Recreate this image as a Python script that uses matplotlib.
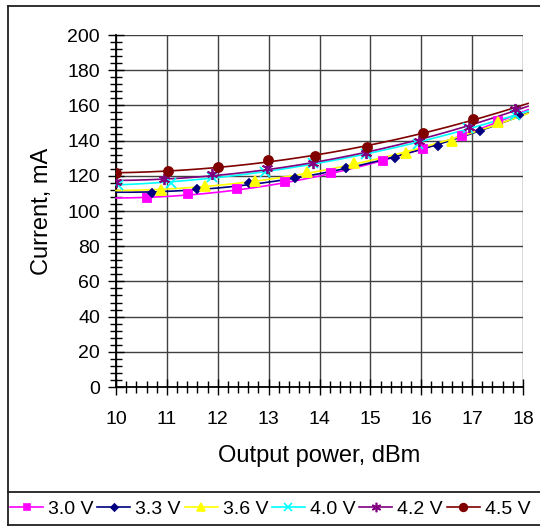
import numpy as np
import matplotlib
matplotlib.use("Agg")
import matplotlib.pyplot as plt
from matplotlib.lines import Line2D
from matplotlib.ticker import MultipleLocator

plt.rcParams["font.family"] = ["Liberation Sans", "DejaVu Sans"]

# measured points per supply voltage: output power (dBm) vs current (mA)
p30 = [10.60, 11.42, 12.38, 13.32, 14.22, 15.25, 16.04, 16.81, 17.51]
i30 = [107.2, 109.5, 112.3, 116.3, 121.4, 128.4, 135.1, 142.6, 151.3]

p33 = [10.70, 11.59, 12.61, 13.52, 14.52, 15.48, 16.33, 17.16, 17.92]
i33 = [110.1, 112.3, 116.1, 118.9, 124.6, 129.9, 136.9, 145.6, 154.5]

p36 = [10.88, 11.75, 12.74, 13.75, 14.68, 15.70, 16.60, 17.51]
i36 = [111.9, 114.2, 117.0, 122.0, 127.1, 132.8, 139.8, 150.4]

p40 = [10.03, 11.09, 11.88, 12.93, 13.88, 14.91, 15.93, 16.91, 17.84]
i40 = [114.8, 116.1, 119.5, 122.2, 127.1, 132.2, 138.3, 147.0, 154.5]

p42 = [10.00, 10.95, 11.88, 12.96, 13.88, 14.91, 15.95, 16.94, 17.84]
i42 = [116.6, 118.2, 120.9, 124.3, 127.4, 132.8, 139.8, 147.9, 158.0]

p45 = [10.00, 11.02, 12.01, 12.98, 13.91, 14.93, 16.04, 17.01]
i45 = [121.4, 122.7, 125.2, 128.7, 131.4, 136.2, 144.1, 152.1]

labels = ["3.0 V", "3.3 V", "3.6 V", "4.0 V", "4.2 V", "4.5 V"]
colors = ["#FF00FF", "#000080", "#FFFF00", "#00FFFF", "#800080", "#800000"]
markers = ["s", "D", "^", "x", (6, 2, 0), "o"]
msizes = [5.5, 4.2, 6.5, 6.5, 8, 6.5]

series = [(p30, i30), (p33, i33), (p36, i36), (p40, i40), (p42, i42), (p45, i45)]

W, H = 540, 526
fig = plt.figure(figsize=(W / 100, H / 100), dpi=100)
ax = fig.add_axes([116 / W, 1 - 387 / H, (523 - 116) / W, (387 - 35) / H])

xs = np.linspace(10, 18.1, 200)
handles = []
for (p, cur), lab, c, m, ms in zip(series, labels, colors, markers, msizes):
    # second order trend line through the measured points
    coef = np.polyfit(p, cur, 2)
    ax.plot(xs, np.polyval(coef, xs), color=c, lw=1.2, clip_on=False, zorder=3)
    ax.plot(p, cur, ls="none", marker=m, ms=ms, color=c, mec=c, mew=1.3, zorder=4)
    handles.append(Line2D([], [], color=c, lw=1.2, marker=m, ms=ms * 0.85, mec=c, mew=1.2))

ax.set_xlim(10, 18)
ax.set_ylim(0, 200)
ax.xaxis.set_major_locator(MultipleLocator(1))
ax.xaxis.set_minor_locator(MultipleLocator(0.2))
ax.yaxis.set_major_locator(MultipleLocator(20))
ax.yaxis.set_minor_locator(MultipleLocator(4))
ax.grid(True, which="major", color="#404040", lw=1.0)
ax.set_axisbelow(True)
for s in ["top", "right"]:
    ax.spines[s].set_visible(False)
for s in ["left", "bottom"]:
    ax.spines[s].set_linewidth(1.3)
ax.tick_params(which="both", direction="inout", width=1.0, labelsize=14)
ax.tick_params(which="major", length=11)
ax.tick_params(which="minor", length=9)
ax.tick_params(axis="x", pad=12)
ax.tick_params(axis="y", pad=6)

ax.set_xlabel("Output power, dBm", fontsize=17, labelpad=12)
ax.set_ylabel("Current, mA", fontsize=17, labelpad=10)

fig.legend(handles, labels, ncol=6, loc="center left",
           bbox_to_anchor=(10 / W, 1 - 509 / H), frameon=False, fontsize=14,
           handlelength=1.7, handletextpad=0.25, columnspacing=0.2,
           borderaxespad=0, borderpad=0)

# outer border and legend box
def fline(x0, y0, x1, y1):
    fig.add_artist(Line2D([x0 / W, x1 / W], [1 - y0 / H, 1 - y1 / H],
                          color="#202020", lw=1.3, transform=fig.transFigure))

fline(8, 6, 560, 6)
fline(8, 6, 8, 525)
fline(8, 525, 560, 525)
fline(8, 492, 560, 492)

fig.savefig("out.png", dpi=100)
